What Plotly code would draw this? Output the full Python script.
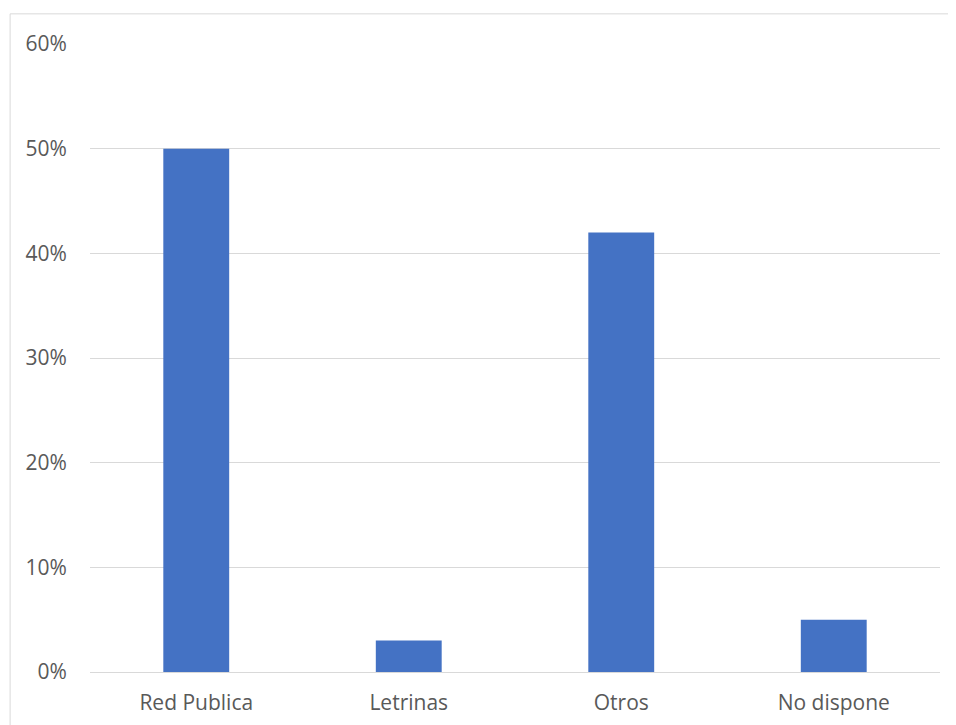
import plotly.graph_objects as go

# categorías y porcentajes
categorias = ["Red Publica", "Letrinas", "Otros", "No dispone"]
valores = [0.50, 0.03, 0.42, 0.05]
ticks_y = [0, 0.1, 0.2, 0.3, 0.4, 0.5, 0.6]
etiquetas_y = ["0%", "10%", "20%", "30%", "40%", "50%", "60%"]

fig = go.Figure(go.Bar(
    x=categorias,
    y=valores,
    marker=dict(color="#4472c4", line=dict(width=0)),
    width=0.31,
))

# la página tiene 8px de margen, se compensa en los márgenes
fig.update_layout(
    width=956,
    height=725,
    paper_bgcolor="white",
    plot_bgcolor="white",
    margin=dict(l=82, r=24, t=36, b=61),
    font=dict(family="Open Sans", size=21, color="#595959"),
    showlegend=False,
    xaxis=dict(
        showgrid=False,
        showline=True,
        linecolor="#d9d9d9",
        linewidth=1,
        ticks="outside",
        ticklen=12,
        tickcolor="rgba(0,0,0,0)",
    ),
    yaxis=dict(
        range=[0, 0.6],
        tickvals=ticks_y,
        ticktext=etiquetas_y,
        showgrid=True,
        gridcolor="#d9d9d9",
        gridwidth=1,
        zeroline=False,
        ticks="outside",
        ticklen=18,
        tickcolor="rgba(0,0,0,0)",
    ),
)

# marco del área del gráfico
fig.add_shape(
    type="rect", xref="paper", yref="paper",
    x0=-0.094, x1=1.2, y0=-0.2, y1=1.048,
    line=dict(color="#d9d9d9", width=1),
    fillcolor="rgba(0,0,0,0)",
    layer="below",
)

fig.write_html("out.html")
